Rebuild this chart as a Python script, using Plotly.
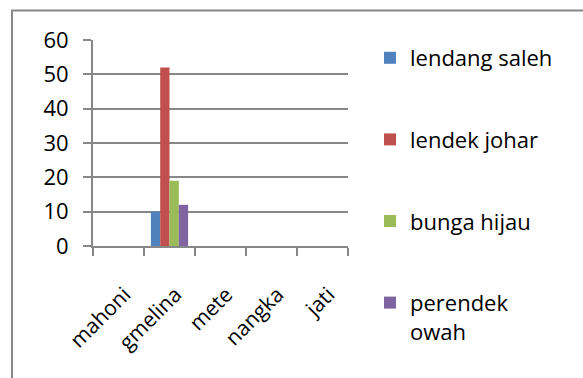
import plotly.graph_objects as go

categories = ["mahoni", "gmelina", "mete", "nangka", "jati"]
series_names = ["lendang saleh", "lendek johar", "bunga hijau", "perendek<br>owah"]
lendang_saleh = [0, 10, 0, 0, 0]
lendek_johar = [0, 52, 0, 0, 0]
bunga_hijau = [0, 19, 0, 0, 0]
perendek_owah = [0, 12, 0, 0, 0]
y_ticks = [0, 10, 20, 30, 40, 50, 60]

colors = ["#4F81BD", "#C0504D", "#9BBB59", "#8064A2"]
values = [lendang_saleh, lendek_johar, bunga_hijau, perendek_owah]

FONT = "Open Sans"
GRID = "#878787"

fig = go.Figure()
for i, (name, vals) in enumerate(zip(series_names, values)):
    fig.add_trace(go.Bar(
        x=categories, y=vals, name=name,
        marker=dict(color=colors[i], line=dict(width=0)),
        legendgroup=f"g{i}",
    ))

W, H = 583, 378
L, R, T, B = 93, 235, 40, 132
pw, ph = W - L - R, H - T - B

def px_x(x):
    return (x - L) / pw

def px_y(y):
    return (H - B - y) / ph

fig.update_layout(
    width=W, height=H,
    margin=dict(l=L, r=R, t=T, b=B, pad=0, autoexpand=False),
    paper_bgcolor="white", plot_bgcolor="white",
    barmode="group", bargap=0.27, bargroupgap=0,
    font=dict(family=FONT, size=22, color="#000000"),
    showlegend=True,
    legend=dict(
        x=px_x(370), xanchor="left",
        y=px_y(37), yanchor="top",
        font=dict(family=FONT, size=22, color="#000000"),
        tracegroupgap=50, valign="top", maxheight=360,
        bgcolor="rgba(0,0,0,0)", borderwidth=0,
        itemclick=False, itemdoubleclick=False,
    ),
    xaxis=dict(
        type="category",
        showline=True, linecolor=GRID, linewidth=2,
        ticks="outside", tickson="boundaries", ticklen=8, tickwidth=2, tickcolor=GRID,
        tickangle=-45, ticklabelstandoff=26, ticklabelshift=6,
        showgrid=False, zeroline=False,
        tickfont=dict(family=FONT, size=21, color="#000000"),
    ),
    yaxis=dict(
        range=[0, 60], tickvals=y_ticks,
        showline=True, linecolor=GRID, linewidth=2,
        ticks="outside", ticklen=8, tickwidth=2, tickcolor=GRID,
        showgrid=True, gridcolor=GRID, gridwidth=2,
        zeroline=False, ticklabelstandoff=10,
        tickfont=dict(family=FONT, size=22, color="#000000"),
    ),
)

# outer chart-area border (extends past the photographed window on right & bottom)
fig.add_shape(
    type="rect", xref="paper", yref="paper",
    x0=px_x(12), x1=px_x(620), y0=px_y(10.5), y1=px_y(420),
    line=dict(color="#898989", width=2), fillcolor="rgba(0,0,0,0)", layer="above",
)

fig.write_html("out.html")
